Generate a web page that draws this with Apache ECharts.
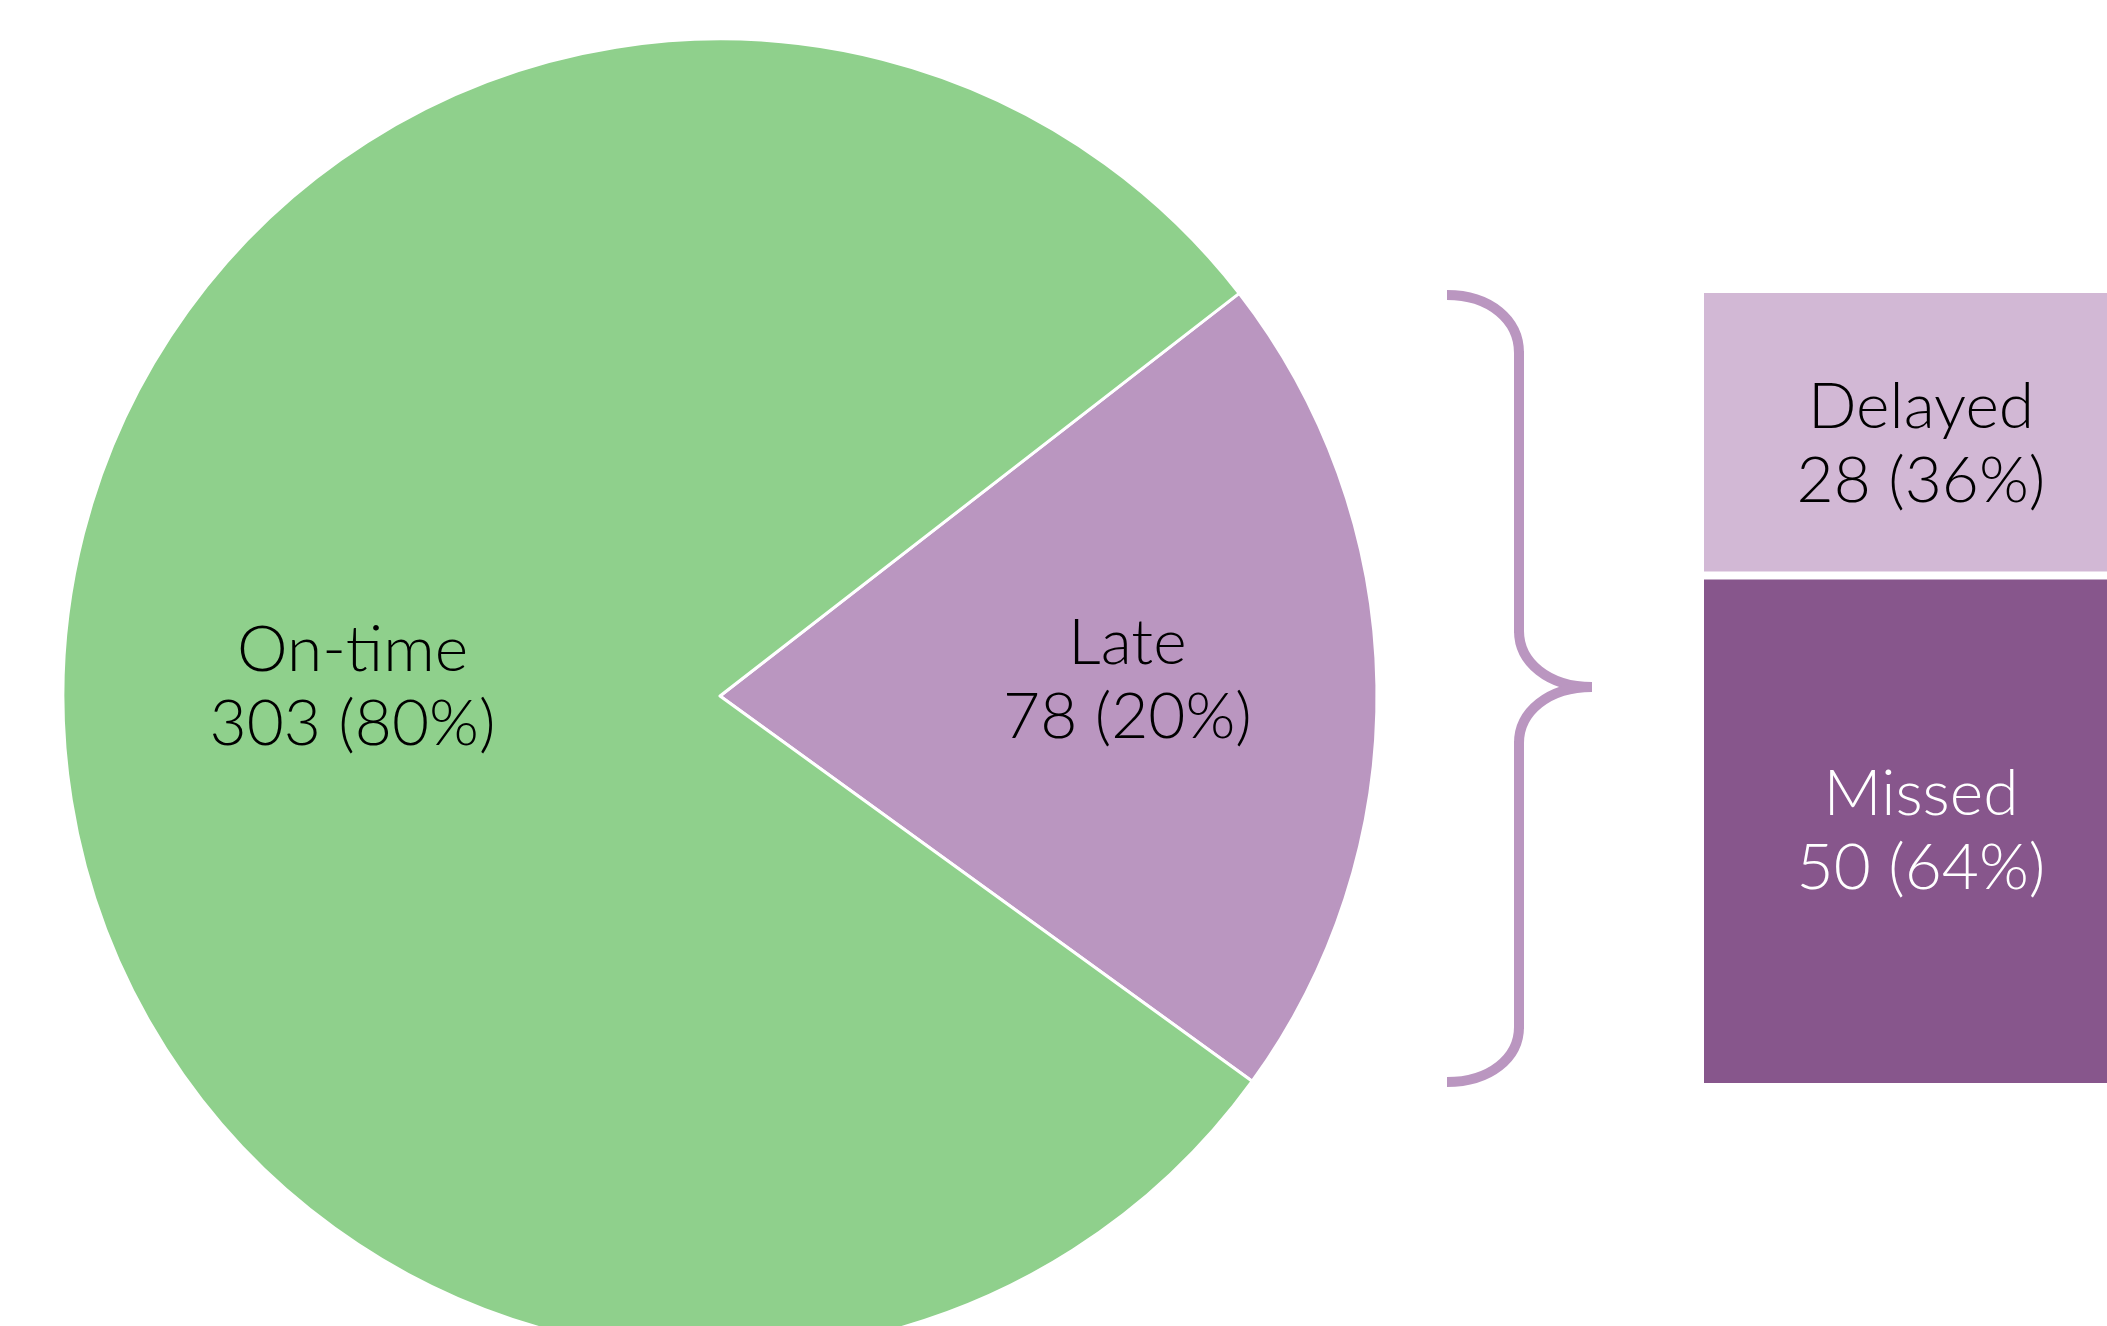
<!DOCTYPE html>
<html lang="en">

<head>
    <meta charset="UTF-8">
    <title>On-time vs late</title>
    <style>
        html, body { margin: 0; padding: 0; background: #fff; }
    </style>
</head>

<body>
    <div id="main" style="width: 2107px; height:1326px"></div>
    <script src="https://cdn.jsdelivr.net/npm/echarts@6/dist/echarts.min.js"></script>
    <script type="text/javascript">
        var myChart = echarts.init(document.getElementById('main'));

        // pie: overall
        var pieNames = ['Late', 'On-time'];
        var pieValues = [78, 303];
        var pieColors = ['#ba96c0', '#8fd08c'];

        // breakdown of late
        var lateNames = ['Delayed', 'Missed'];
        var lateValues = [28, 50];
        var lateColors = ['#d2b8d5', '#87568c'];
        var lateTotal = lateValues[0] + lateValues[1];

        var font = 'Lato, "Noto Sans", sans-serif';
        var fontWeight = 300;
        var braceColor = '#ba96c0';

        var pieData = [];
        for (var i = 0; i < pieNames.length; i++) {
            pieData.push({ name: pieNames[i], value: pieValues[i], itemStyle: { color: pieColors[i] } });
        }

        function barSeries(idx, labelColor, offsetY) {
            return {
                name: lateNames[idx],
                type: 'bar',
                stack: 'late',
                barWidth: '100%',
                data: [lateValues[idx]],
                itemStyle: { color: lateColors[idx], borderColor: '#fff', borderWidth: 4 },
                label: {
                    show: true,
                    position: 'inside',
                    offset: [0, offsetY],
                    color: labelColor,
                    fontFamily: font,
                    fontWeight: fontWeight,
                    fontSize: 64,
                    lineHeight: 74,
                    formatter: function (p) {
                        return p.seriesName + '\n' + p.value + ' (' + Math.round(p.value / lateTotal * 100) + '%)';
                    }
                },
                emphasis: { disabled: true }
            };
        }

        // curly brace pieces
        function curve(a, b, c, d, e, f, g, h) {
            return {
                type: 'bezierCurve',
                shape: { x1: a, y1: b, cpx1: c, cpy1: d, cpx2: e, cpy2: f, x2: g, y2: h },
                style: { fill: 'none', stroke: braceColor, lineWidth: 10 }
            };
        }
        function vline(x, y1, y2) {
            return {
                type: 'line',
                shape: { x1: x, y1: y1, x2: x, y2: y2 },
                style: { stroke: braceColor, lineWidth: 10 }
            };
        }

        option = {
            animation: false,
            backgroundColor: '#fff',
            grid: { left: 1700, top: 289, width: 442, height: 798, outerBoundsMode: 'none', containLabel: false },
            xAxis: { type: 'category', data: ['Late'], show: false },
            yAxis: { type: 'value', min: 0, max: lateTotal, show: false },
            series: [
                {
                    type: 'pie',
                    center: [720, 696],
                    radius: 657,
                    startAngle: 37.8,
                    data: pieData,
                    itemStyle: { borderColor: '#fff', borderWidth: 3 },
                    label: {
                        show: true,
                        position: 'inside',
                        color: '#000',
                        fontFamily: font,
                        fontWeight: fontWeight,
                        fontSize: 64,
                        lineHeight: 74,
                        formatter: function (p) {
                            return p.name + '\n' + p.value + ' (' + Math.round(p.percent) + '%)';
                        }
                    },
                    labelLayout: function (p) {
                        return p.dataIndex === 0 ? { dx: 76, dy: -10 } : { dx: -36, dy: -14 };
                    },
                    labelLine: { show: false },
                    emphasis: { disabled: true }
                },
                // bottom first so Missed sits under Delayed
                barSeries(1, '#fff', 0),
                barSeries(0, '#000', 12)
            ],
            graphic: [
                curve(1447, 295, 1490, 295, 1519, 320, 1519, 353),
                vline(1519, 351, 633),
                curve(1519, 631, 1519, 662, 1548, 687, 1592, 687),
                curve(1592, 687, 1548, 687, 1519, 712, 1519, 743),
                vline(1519, 741, 1029),
                curve(1519, 1027, 1519, 1058, 1490, 1082, 1447, 1082)
            ]
        };
        myChart.setOption(option);
    </script>

</body>

</html>
